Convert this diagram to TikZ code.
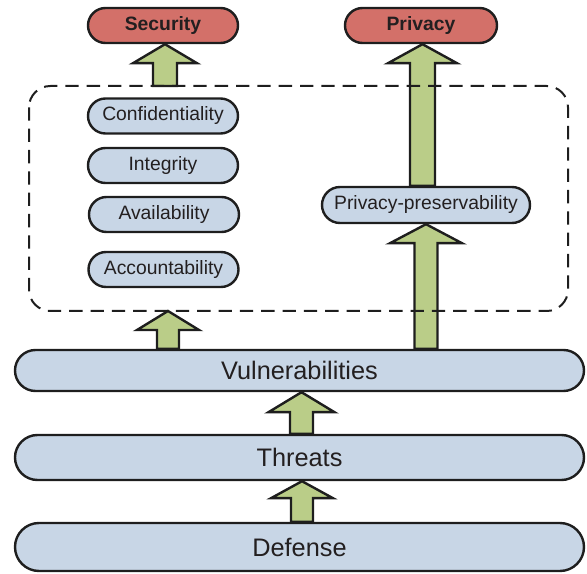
\documentclass[tikz,border=0pt]{standalone}
\usepackage{fontspec}
\usepackage{xcolor}
\usetikzlibrary{shapes.misc,calc}
\newfontfamily\lblfont{Liberation Sans}
\definecolor{goalred}{RGB}{211,112,105}
\definecolor{boxblue}{RGB}{200,214,230}
\definecolor{arrgreen}{RGB}{186,205,136}
\definecolor{txtgray}{RGB}{35,31,32}
\definecolor{linegray}{RGB}{30,30,30}

\tikzset{
  pill/.style={rounded rectangle, draw=linegray, line width=1.8pt, fill=boxblue, inner sep=0pt, text=txtgray},
  smallbox/.style={pill, minimum width=112.5pt, minimum height=26.25pt, font=\lblfont\fontsize{14.5}{17}\selectfont},
  goalbox/.style={smallbox, fill=goalred, font=\lblfont\bfseries\fontsize{14.5}{17}\selectfont},
  layerbox/.style={pill, minimum width=426.75pt, font=\lblfont\fontsize{19}{22}\selectfont},
  blockarr/.style={draw=linegray, line width=1.8pt, fill=arrgreen, line join=miter},
  grpbox/.style={draw=linegray, line width=1.5pt, dash pattern=on 10pt off 6pt, rounded corners=16pt},
}

% block arrow: x, from, to, half shaft, half head, head length
\newcommand{\blockup}[6]{%
  \draw[blockarr] ($(#1,0 |- #2)+(-#4,0)$) -- ($(#1,0 |- #3)+(-#4,#6)$) -- ($(#1,0 |- #3)+(-#5,#6)$)
    -- (#1,0 |- #3) -- ($(#1,0 |- #3)+(#5,#6)$) -- ($(#1,0 |- #3)+(#4,#6)$) -- ($(#1,0 |- #2)+(#4,0)$) -- cycle;}

\begin{document}
\begin{tikzpicture}[x=0.75pt,y=0.75pt,yscale=-1,xscale=1]
\useasboundingbox (0,0) rectangle (587,574);

%Group corners
\coordinate (gtl) at (29,86);
\coordinate (gbr) at (568,311);

% Goal Nodes
\node[goalbox] (sec) at (163,25.5) {Security};
\node[goalbox, minimum width=114pt] (priv) at (421,25.5) {Privacy};

% Property Nodes
\node[smallbox] (conf) at (163,116) {Confidentiality};
\node[smallbox] (integ) at (163,165.5) {Integrity};
\node[smallbox] (avail) at (164,214.5) {Availability};
\node[smallbox] (acct) at (163.5,269.5) {Accountability};
\node[smallbox, minimum width=156pt, minimum height=27pt] (ppres) at (426,205) {Privacy-preservability};

% Layer Nodes
\node[layerbox, minimum height=30.75pt] (vul) at (299.5,370.5) {Vulnerabilities};
\node[layerbox, minimum height=33.75pt] (thr) at (299.5,457.5) {Threats};
\node[layerbox, minimum height=36pt] (def) at (299.5,547) {Defense};

%Block arrows
\blockup{165}{gtl}{sec.south}{12}{32}{19}
\blockup{422.5}{ppres.north}{priv.south}{12.5}{34.5}{19}
\blockup{426}{vul.north}{ppres.south}{11.5}{36}{19}
\blockup{168}{vul.north}{gbr}{11}{31}{19}
\blockup{301.5}{thr.north}{vul.south}{11.5}{33}{20}
\blockup{302}{def.north}{thr.south}{11}{31}{17}

%Shape: Dashed group
\draw[grpbox] (gtl) rectangle (gbr);

\end{tikzpicture}
\end{document}
